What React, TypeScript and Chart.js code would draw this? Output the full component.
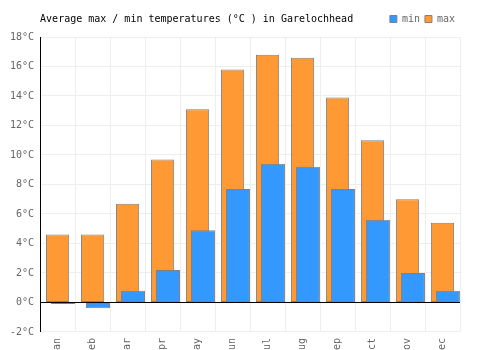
import React, { useEffect, useRef } from 'react';
import { Chart, registerables } from 'chart.js';

Chart.register(...registerables);

const TITLE = 'Average max / min temperatures (°C ) in Garelochhead';
const MONTHS = ['an', 'eb', 'ar', 'pr', 'ay', 'un', 'ul', 'ug', 'ep', 'ct', 'ov', 'ec'];
const MIN_TEMPS = [-0.1, -0.4, 0.8, 2.2, 4.9, 7.7, 9.4, 9.2, 7.7, 5.6, 2.0, 0.8];
const MAX_TEMPS = [4.6, 4.6, 6.7, 9.7, 13.1, 15.8, 16.8, 16.6, 13.9, 11.0, 7.0, 5.4];
const SERIES_LABELS = ['min', 'max'];
const Y_MIN = -2;
const Y_MAX = 18;
const Y_STEP = 2;
const UNIT = '°C';

const FONT_FAMILY = '"DejaVu Sans Mono", "Liberation Mono", monospace';
const BLUE = '#3399ff';
const ORANGE = '#ff9933';
const BAR_BORDER = '#808080';
const GRID = '#eeeeee';
const TEXT = '#666666';

const titlePlugin = {
  id: 'inlineTitle',
  afterDraw(chart: any) {
    const ctx = chart.ctx;
    ctx.save();
    ctx.font = `10px ${FONT_FAMILY}`;
    ctx.fillStyle = '#000';
    ctx.textBaseline = 'middle';
    ctx.textAlign = 'left';
    ctx.fillText(TITLE, chart.chartArea.left, 19);
    ctx.restore();
  },
};

export default function App() {
  const ref = useRef<HTMLCanvasElement | null>(null);

  useEffect(() => {
    if (!ref.current) return;
    const empty = MONTHS.map(() => null);
    const common = {
      categoryPercentage: 0.463,
      borderWidth: 1,
      borderColor: BAR_BORDER,
      borderSkipped: false,
    };
    const chart = new Chart(ref.current, {
      type: 'bar',
      data: {
        labels: MONTHS,
        datasets: [
          { label: '', data: empty, stack: 'L', backgroundColor: 'rgba(0,0,0,0)', ...common, borderWidth: 0 },
          { label: '', data: empty, stack: 'M', backgroundColor: 'rgba(0,0,0,0)', ...common, borderWidth: 0 },
          { label: SERIES_LABELS[0], data: MIN_TEMPS, stack: 'R', backgroundColor: BLUE, barPercentage: 4.45, ...common },
          { label: SERIES_LABELS[1], data: MAX_TEMPS, stack: 'M', backgroundColor: ORANGE, barPercentage: 4.3, ...common },
        ] as any,
      },
      options: {
        animation: false,
        responsive: true,
        maintainAspectRatio: false,
        events: [],
        layout: { padding: { left: 4, right: 40, top: 9, bottom: -6 } },
        plugins: {
          // empty title used only as a 3px spacer between legend and plot
          title: {
            display: true,
            text: '',
            position: 'top',
            weight: 500,
            padding: 0,
            font: { size: 3, lineHeight: 1 },
          },
          tooltip: { enabled: false },
          legend: {
            display: true,
            position: 'top',
            align: 'end',
            labels: {
              boxWidth: 7,
              boxHeight: 7,
              padding: 5,
              color: TEXT,
              font: { family: FONT_FAMILY, size: 10 },
              filter: (item: any) => item.text !== '',
            },
          },
        },
        scales: {
          x: {
            grid: { color: GRID, offset: true, drawTicks: false },
            border: { color: GRID },
            ticks: {
              color: TEXT,
              font: { family: FONT_FAMILY, size: 10 },
              maxRotation: 90,
              minRotation: 90,
              autoSkip: false,
              padding: 6,
            },
          },
          y: {
            min: Y_MIN,
            max: Y_MAX,
            grid: {
              color: (ctx: any) => (ctx.tick && ctx.tick.value === 0 ? '#000' : GRID),
              drawTicks: false,
            },
            border: { color: '#000' },
            ticks: {
              stepSize: Y_STEP,
              padding: 6,
              color: TEXT,
              font: { family: FONT_FAMILY, size: 10 },
              callback: (v: any) => `${v}${UNIT}`,
            },
          },
        },
      } as any,
      plugins: [titlePlugin],
    });
    return () => chart.destroy();
  }, []);

  return (
    <div style={{ position: 'absolute', left: 0, top: 0, width: 500, height: 350 }}>
      <canvas ref={ref} />
    </div>
  );
}
